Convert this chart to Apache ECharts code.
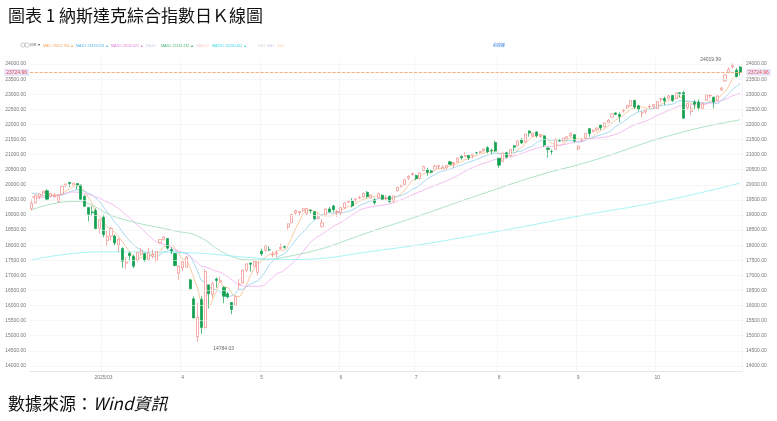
<!DOCTYPE html>
<html><head><meta charset="utf-8">
<script src="https://cdn.jsdelivr.net/npm/echarts@6/dist/echarts.min.js"></script>
<style>html,body{margin:0;padding:0;background:#fff}#c{width:777px;height:421px}</style>
</head><body><div id="c"></div>
<script>
const dates=['2025-02-03','2025-02-04','2025-02-05','2025-02-06','2025-02-07','2025-02-10','2025-02-11','2025-02-12','2025-02-13','2025-02-14','2025-02-18','2025-02-19','2025-02-20','2025-02-21','2025-02-24','2025-02-25','2025-02-26','2025-02-27','2025-02-28',
'2025-03-03','2025-03-04','2025-03-05','2025-03-06','2025-03-07','2025-03-10','2025-03-11','2025-03-12','2025-03-13','2025-03-14','2025-03-17','2025-03-18','2025-03-19','2025-03-20','2025-03-21','2025-03-24','2025-03-25','2025-03-26','2025-03-27','2025-03-28','2025-03-31',
'2025-04-01','2025-04-02','2025-04-03','2025-04-04','2025-04-07','2025-04-08','2025-04-09','2025-04-10','2025-04-11','2025-04-14','2025-04-15','2025-04-16','2025-04-17','2025-04-21','2025-04-22','2025-04-23','2025-04-24','2025-04-25','2025-04-28','2025-04-29','2025-04-30',
'2025-05-01','2025-05-02','2025-05-05','2025-05-06','2025-05-07','2025-05-08','2025-05-09','2025-05-12','2025-05-13','2025-05-14','2025-05-15','2025-05-16','2025-05-19','2025-05-20','2025-05-21','2025-05-22','2025-05-23','2025-05-27','2025-05-28','2025-05-29','2025-05-30',
'2025-06-02','2025-06-03','2025-06-04','2025-06-05','2025-06-06','2025-06-09','2025-06-10','2025-06-11','2025-06-12','2025-06-13','2025-06-16','2025-06-17','2025-06-18','2025-06-20','2025-06-23','2025-06-24','2025-06-25','2025-06-26','2025-06-27','2025-06-30',
'2025-07-01','2025-07-02','2025-07-03','2025-07-07','2025-07-08','2025-07-09','2025-07-10','2025-07-11','2025-07-14','2025-07-15','2025-07-16','2025-07-17','2025-07-18','2025-07-21','2025-07-22','2025-07-23','2025-07-24','2025-07-25','2025-07-28','2025-07-29','2025-07-30','2025-07-31',
'2025-08-01','2025-08-04','2025-08-05','2025-08-06','2025-08-07','2025-08-08','2025-08-11','2025-08-12','2025-08-13','2025-08-14','2025-08-15','2025-08-18','2025-08-19','2025-08-20','2025-08-21','2025-08-22','2025-08-25','2025-08-26','2025-08-27','2025-08-28','2025-08-29',
'2025-09-02','2025-09-03','2025-09-04','2025-09-05','2025-09-08','2025-09-09','2025-09-10','2025-09-11','2025-09-12','2025-09-15','2025-09-16','2025-09-17','2025-09-18','2025-09-19','2025-09-22','2025-09-23','2025-09-24','2025-09-25','2025-09-26','2025-09-29','2025-09-30',
'2025-10-01','2025-10-02','2025-10-03','2025-10-06','2025-10-07','2025-10-08','2025-10-09','2025-10-10','2025-10-13','2025-10-14','2025-10-15','2025-10-16','2025-10-17','2025-10-20','2025-10-21','2025-10-22','2025-10-23','2025-10-24','2025-10-27','2025-10-28','2025-10-29','2025-10-30','2025-10-31'];
// [open, close, low, high]
const ohlc=[[19215,19391,19140,19517],[19400,19654,19380,19680],[19600,19692,19520,19710],[19720,19791,19650,19800],[19800,19523,19480,19860],[19620,19714,19590,19730],[19600,19643,19580,19720],[19450,19649,19400,19670],[19690,19945,19680,19950],[19960,20026,19930,20045],[20080,20041,19920,20090],[19990,20056,19950,20060],[20040,19962,19840,20050],[19990,19524,19500,20010],[19620,19286,19260,19650],[19250,19026,18790,19250],[19100,19075,18970,19300],[19150,18544,18540,19220],[18560,18847,18370,18850],
[18920,18350,18260,19010],[18150,18285,17960,18480],[18300,18553,18150,18600],[18300,18069,17980,18350],[18000,18196,17770,18240],[17890,17468,17240,17930],[17400,17436,17200,17600],[17730,17648,17500,17780],[17630,17303,17240,17680],[17500,17754,17450,17770],[17700,17808,17650,17900],[17720,17504,17450,17720],[17530,17751,17480,17900],[17630,17692,17560,17860],[17500,17784,17450,17800],[18080,18189,18050,18200],[18190,18272,18150,18290],[18220,17900,17850,18230],[17850,17804,17700,17930],[17720,17323,17300,17730],[17070,17299,16850,17330],
[17250,17450,17140,17490],[17270,17601,17260,17640],[16850,16551,16540,16880],[16220,15588,15580,16300],[14970,15603,14784.03,16080],[16200,15268,15060,16300],[15270,17125,15240,17200],[16680,16387,15900,16700],[16370,16724,16260,16780],[16880,16831,16590,16930],[16780,16823,16770,16950],[16600,16307,16070,16640],[16390,16286,16230,16450],[16100,15871,15710,16110],[16000,16300,15990,16330],[16700,16708,16530,16880],[16750,17166,16720,17200],[17180,17383,17100,17390],[17400,17366,17120,17440],[17300,17461,17290,17470],[17100,17446,16990,17460],
[17800,17710,17650,17880],[17830,17977,17780,18020],[17850,17844,17800,17960],[17680,17690,17600,17800],[17720,17738,17600,17830],[17880,17929,17860,18050],[17950,17929,17880,18000],[18600,18708,18520,18710],[18740,19010,18730,19040],[19070,19146,19010,19170],[19070,19112,18980,19130],[19140,19211,19100,19220],[19050,19215,19000,19220],[19160,19143,19050,19180],[19110,18873,18840,19100],[18880,18925,18850,19060],[18610,18737,18600,18860],[19010,19199,18990,19210],[19200,19101,19080,19270],[19300,19175,19100,19340],[19100,19114,18940,19160],
[19070,19243,18980,19250],[19240,19399,19200,19420],[19420,19460,19400,19490],[19460,19298,19250,19560],[19480,19530,19430,19570],[19560,19591,19520,19620],[19600,19715,19570,19740],[19750,19615,19560,19790],[19560,19662,19550,19680],[19500,19407,19340,19550],[19560,19701,19550,19740],[19650,19521,19490,19690],[19540,19546,19490,19660],[19620,19447,19400,19640],[19460,19631,19400,19640],[19800,19913,19780,19940],[19950,19973,19910,20010],[20010,20168,19990,20180],[20220,20273,20160,20320],[20340,20370,20290,20400],
[20310,20202,20150,20340],[20210,20394,20180,20400],[20470,20601,20460,20630],[20500,20412,20300,20560],[20460,20418,20370,20490],[20500,20611,20470,20660],[20620,20630,20500,20660],[20520,20586,20510,20640],[20560,20641,20500,20660],[20760,20677,20660,20790],[20700,20730,20560,20760],[20760,20885,20740,20900],[20940,20896,20830,20980],[20940,20974,20930,21080],[20970,20892,20820,20990],[20960,21020,20870,21030],[21060,21057,20990,21090],[21070,21108,21030,21110],[21130,21178,21090,21200],[21230,21098,21040,21280],[21140,21129,21000,21200],[21400,21122,21080,21460],
[20880,20650,20560,20890],[20770,21053,20760,21060],[21060,20916,20870,21090],[20960,21169,20930,21180],[21290,21242,21110,21310],[21290,21450,21280,21470],[21480,21385,21350,21550],[21420,21682,21400,21690],[21780,21713,21590,21800],[21620,21710,21590,21730],[21750,21623,21560,21770],[21600,21630,21550,21680],[21620,21315,21250,21630],[21220,21172,20900,21230],[21100,21100,20980,21170],[21170,21497,21170,21550],[21460,21449,21430,21530],[21450,21544,21420,21560],[21510,21590,21480,21610],[21620,21705,21590,21730],[21660,21456,21390,21670],
[21200,21280,21130,21300],[21490,21498,21420,21560],[21540,21708,21510,21710],[21860,21700,21590,21880],[21770,21799,21730,21830],[21820,21879,21770,21890],[21980,21886,21810,21990],[21920,22043,21900,22060],[22060,22141,22050,22180],[22240,22349,22220,22360],[22380,22333,22300,22400],[22330,22261,22070,22400],[22450,22470,22390,22520],[22560,22631,22500,22650],[22610,22789,22600,22800],[22800,22573,22500,22810],[22620,22497,22430,22650],[22380,22385,22230,22450],[22420,22484,22340,22500],[22580,22591,22530,22660],[22590,22660,22520,22670],
[22530,22755,22520,22770],[22840,22845,22720,22870],[22860,22780,22640,22920],[22870,22942,22840,23000],[22960,22788,22740,22980],[22850,23044,22840,23050],[23050,23025,22900,23060],[23050,22204,22190,23110],[22550,22695,22500,22700],[22430,22521,22300,22630],[22740,22671,22500,22820],[22740,22562,22460,22830],[22530,22680,22500,22740],[22800,22991,22790,23000],[22950,22953,22880,23000],[22900,22740,22530,22920],[22780,22942,22760,22970],[23140,23205,23110,23230],[23440,23637,23420,23650],[23720,23827,23700,23890],[23910,23958,23850,24019.99],[23800,23581,23560,23860],[23900,23724.96,23620,23930]];
const janCloses=[19280,19621,19864,19490,19479,19162,19088,19044,19511,19339,19630,19757,20009,20053,19954,19342,19734,19633,19681,19627];
const ma60Points=[['2025-02-03',19170],['2025-02-19',19450],['2025-03-07',18900],['2025-03-28',18470],['2025-04-07',18300],['2025-04-17',17680],['2025-04-29',17510],['2025-05-09',17600],['2025-06-17',18570],['2025-07-29',19760],['2025-08-18',20330],['2025-09-05',20770],['2025-10-08',21690],['2025-10-31',22150]];
const ma250Points=[['2025-02-03',17510],['2025-03-03',17780],['2025-03-28',17760],['2025-04-29',17580],['2025-05-09',17520],['2025-06-17',17840],['2025-07-29',18400],['2025-09-02',18960],['2025-10-06',19500],['2025-10-31',20060]];
const yTicks=[14000,14500,15000,15500,16000,16500,17000,17500,18000,18500,19000,19500,20000,20500,21000,21500,22000,22500,23000,23500,24000];
const lastPrice=23724.96, maxHigh=['2025-10-29',24019.99], minLow=['2025-04-07',14784.03];
const legendItems=[['MA5: 23651.764 ▲','#f5a35c',43],['MA10: 23419.674 ▲','#4fb3e0',76],['MA20: 21132.021 ▲','#e07ad8',111],['MA30','#c9d3f0',146],['MA60: 22131.212 ▲','#3cb371',161],['MA120','#f8c8c8',197],['MA250: 20090.451 ▲','#33d6e0',212],['MA1','#d8d8d8',258],['MA1','#d8c8f0',267],['MA1','#f8dcb0',277]];

const closes=ohlc.map(d=>d[1]);
const all=janCloses.concat(closes);
function ma(n){return closes.map((_,i)=>{const j=i+janCloses.length;let s=0;for(let k=j-n+1;k<=j;k++)s+=all[k];return +(s/n).toFixed(2);});}
function sparse(pts){const a=dates.map(()=>null);pts.forEach(p=>{a[dates.indexOf(p[0])]=p[1];});return a;}
const monthStart=new Set();dates.forEach((d,i)=>{if(i>0&&d.slice(5,7)!==dates[i-1].slice(5,7))monthStart.add(i);});
function lbl(v){const m=+v.slice(5,7);return m===3?'2025/03':String(m);}
const yAx=(pos)=>({type:'value',position:pos,min:13830,max:24200,interval:10,scale:true,
  axisLine:{show:false},axisTick:{show:false},splitLine:{show:false},
  axisLabel:{fontSize:5,color:'#777',margin:4,formatter:v=>(Math.round(v)%500===0&&v>=14000&&v<=24000)?v.toFixed(2):''}});
const chart=echarts.init(document.getElementById('c'));
const lineS=(name,data,color)=>({name,type:'line',data,symbol:'none',smooth:true,connectNulls:true,lineStyle:{width:0.8,color},z:1});
const graphics=[
 {type:'text',left:8,top:7,style:{text:'圖表 1 納斯達克綜合指數日Ｋ線圖',font:'17px "Noto Sans CJK TC"',fill:'#111'}},
 {type:'text',left:8,top:395,style:{text:'數據來源：',font:'17px "Noto Sans CJK TC"',fill:'#111'}},
 {type:'text',left:93,top:395,style:{text:'Wind資訊',font:'italic 17px "Noto Sans CJK TC"',fill:'#111'}},
 {type:'text',left:30,top:43,style:{text:'日K ▾',font:'4px sans-serif',fill:'#555'}},
 {type:'circle',shape:{cx:23,cy:45,r:2.2},style:{fill:'none',stroke:'#999',lineWidth:0.5}},
 {type:'circle',shape:{cx:27,cy:45,r:2.2},style:{fill:'none',stroke:'#999',lineWidth:0.5}},
 {type:'text',left:493,top:43,style:{text:'前復權',font:'4px "Noto Sans CJK TC"',fill:'#3b7ddd'}}
];
legendItems.forEach(it=>graphics.push({type:'text',left:it[2],top:43.5,style:{text:it[0],font:'3.6px sans-serif',fill:it[1]}}));
chart.setOption({
 animation:false,
 grid:{left:30,right:35,top:58,bottom:50},
 graphic:graphics,
 xAxis:{type:'category',data:dates,boundaryGap:true,
  axisLine:{lineStyle:{color:'#e6e6e6'}},axisTick:{show:false},
  axisLabel:{fontSize:5,color:'#777',interval:(i)=>monthStart.has(i),formatter:lbl,margin:4},
  splitLine:{show:true,interval:(i)=>monthStart.has(i),lineStyle:{color:'#f0f0f0',width:0.6}}},
 yAxis:[yAx('left'),yAx('right')],
 series:[
  {type:'candlestick',data:ohlc,barWidth:2.6,z:3,
   itemStyle:{color:'#ffffff',color0:'#12a150',borderColor:'#f08a84',borderColor0:'#12a150',borderWidth:0.7},
   markLine:{silent:true,symbol:'none',animation:false,
    data:yTicks.map(v=>({yAxis:v,lineStyle:{color:'#f0f0f0',type:'solid',width:0.6},label:{show:false}})).concat([
     {yAxis:lastPrice,lineStyle:{color:'#f5b07a',type:'dashed',width:0.8},label:{show:true,position:'start',formatter:'23724.96',fontSize:5,color:'#e05050',backgroundColor:'#e8e4f8',padding:[1,2],distance:1}},
     {yAxis:lastPrice,lineStyle:{color:'#f5b07a',type:'dashed',width:0.8},label:{show:true,position:'end',formatter:'23724.96',fontSize:5,color:'#e05050',backgroundColor:'#e8e4f8',padding:[1,2],distance:4}}])},
   markPoint:{symbol:'circle',symbolSize:0,animation:false,
    data:[{coord:maxHigh,value:maxHigh[1],label:{show:true,formatter:'24019.99',fontSize:5,color:'#666',offset:[-22,-4]}},
          {coord:minLow,value:minLow[1],label:{show:true,formatter:'14784.03',fontSize:5,color:'#666',offset:[26,6]}}]}},
  lineS('MA5',ma(5),'#f9b880'),
  lineS('MA10',ma(10),'#86cbea'),
  lineS('MA20',ma(20),'#f0a8ee'),
  lineS('MA60',sparse(ma60Points),'#9bd9b4'),
  lineS('MA250',sparse(ma250Points),'#8ff0f4')
 ]
});
</script></body></html>
